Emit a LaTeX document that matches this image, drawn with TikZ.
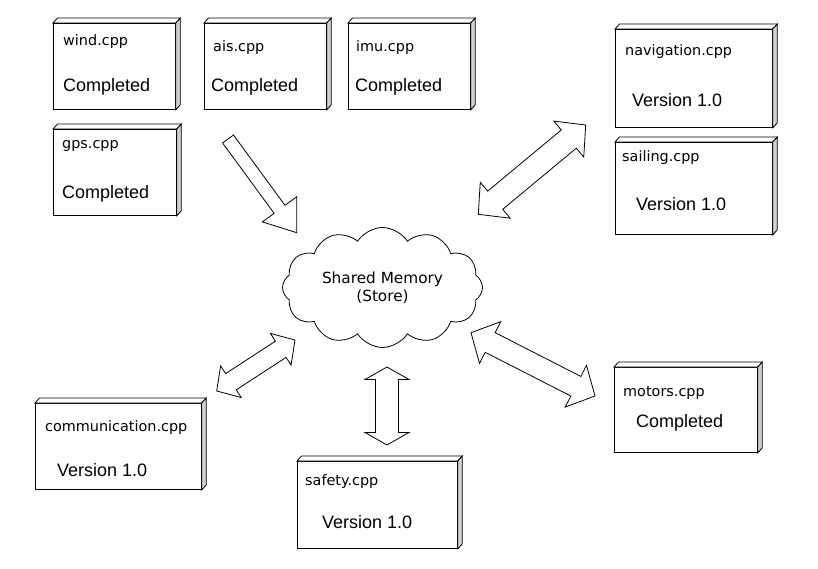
\documentclass[tikz,border=0pt]{standalone}
\usepackage{fontspec}
\setmainfont{DejaVu Sans}
\newfontfamily\arialf{Liberation Sans}
\usetikzlibrary{calc,shapes.symbols}
\definecolor{sidegray}{gray}{0.82}
\tikzset{
  front/.style={draw, line width=0.8pt, fill=white, anchor=north west, inner sep=0pt},
  lab/.style={anchor=west, inner sep=0pt, font=\fontsize{14.4}{17}\selectfont},
  stat/.style={anchor=west, inner sep=0pt, font=\arialf\fontsize{18}{21}\selectfont},
  blk/.style={draw, line width=0.8pt, fill=white, line join=miter},
}
\newcommand\umlnode[5]{%
  \node[front, minimum width=#4pt, minimum height=#5pt] (#1) at (#2,#3) {};
  \draw[line width=0.8pt, fill=white] (#1.north west) -- ++(4.5,-5) -- ($(#1.north east)+(4.5,-5)$) -- (#1.north east) -- cycle;
  \draw[line width=0.8pt, fill=sidegray] (#1.north east) -- ++(4.5,-5) -- ($(#1.south east)+(4.5,-5)$) -- (#1.south east) -- cycle;
}
\newcommand\dblarr[5]{%
  \coordinate (tmpa) at ($(#1)!#5!(#2)$);
  \coordinate (tmpb) at ($(#2)!#5!(#1)$);
  \draw[blk] (#1) -- ($(tmpa)!#4!90:(#2)$) -- ($(tmpa)!#3!90:(#2)$) -- ($(tmpb)!#3!-90:(#1)$) -- ($(tmpb)!#4!-90:(#1)$) -- (#2) -- ($(tmpb)!#4!90:(#1)$) -- ($(tmpb)!#3!90:(#1)$) -- ($(tmpa)!#3!-90:(#2)$) -- ($(tmpa)!#4!-90:(#2)$) -- cycle;
}
\newcommand\sglarr[5]{%
  \coordinate (tmpb) at ($(#2)!#5!(#1)$);
  \draw[blk] ($(#1)!#3!90:(#2)$) -- ($(tmpb)!#3!-90:(#1)$) -- ($(tmpb)!#4!-90:(#1)$) -- (#2) -- ($(tmpb)!#4!90:(#1)$) -- ($(tmpb)!#3!90:(#1)$) -- ($(#1)!#3!-90:(#2)$) -- cycle;
}
\begin{document}
\begin{tikzpicture}[x=1pt,y=-1pt]
\useasboundingbox[fill=white] (0,0) rectangle (818,569);

% boxes
\umlnode{wind}{53}{23}{122}{86}
\node[lab] (windl) at (63,41.5) {wind.cpp};
\node[stat] (winds) at (63,87) {Completed};

\umlnode{ais}{204}{23}{122}{86}
\node[lab] (aisl) at (213,48) {ais.cpp};
\node[stat] (aiss) at (211,87) {Completed};

\umlnode{imu}{348}{23}{122}{86}
\node[lab] (imul) at (356,48) {imu.cpp};
\node[stat] (imus) at (355,87) {Completed};

\umlnode{gps}{53}{129}{123}{86}
\node[lab] (gpsl) at (62,146) {gps.cpp};
\node[stat] (gpss) at (62,193.5) {Completed};

\umlnode{nav}{615}{29}{157}{98}
\node[lab] (navl) at (625,52) {navigation.cpp};
\node[stat] (navs) at (632,100.5) {Version 1.0};

\umlnode{sail}{615}{142}{157}{92}
\node[lab] (saill) at (622,158) {sailing.cpp};
\node[stat] (sails) at (636,204.5) {Version 1.0};

\umlnode{mot}{614}{367}{143}{85}
\node[lab] (motl) at (623,393) {motors.cpp};
\node[stat] (mots) at (636,423) {Completed};

\umlnode{com}{35}{403}{166}{86}
\node[lab] (coml) at (45,428) {communication.cpp};
\node[stat] (coms) at (57,470) {Version 1.0};

\umlnode{saf}{297}{461}{160}{87}
\node[lab] (safl) at (305,482) {safety.cpp};
\node[stat] (safs) at (322,522) {Version 1.0};

% cloud
\node[cloud, draw, fill=white, line width=0.8pt, cloud puffs=12, cloud puff arc=115,
      minimum width=200pt, minimum height=120pt, cloud ignores aspect, align=center,
      font=\fontsize{15.3}{18}\selectfont] (mem) at (382.5,287.5) {Shared Memory\\(Store)};

% arrows
\coordinate (wA) at (228,139);
\coordinate (wB) at (296.7,232.7);
\sglarr{wA}{wB}{6.75pt}{21.3pt}{29pt}

\coordinate (nA) at (478.3,214.3);
\coordinate (nB) at (585.7,125);
\dblarr{nA}{nB}{11.8pt}{23.4pt}{22pt}

\coordinate (cA) at (216.7,391);
\coordinate (cB) at (295,340);
\dblarr{cA}{cB}{9.7pt}{18.9pt}{17pt}

\coordinate (sA) at (387,367);
\coordinate (sB) at (387,445);
\dblarr{sA}{sB}{11.5pt}{22pt}{12.5pt}

\coordinate (mA) at (471,332.7);
\coordinate (mB) at (595,396);
\dblarr{mA}{mB}{11pt}{23.4pt}{21.5pt}
\end{tikzpicture}
\end{document}
